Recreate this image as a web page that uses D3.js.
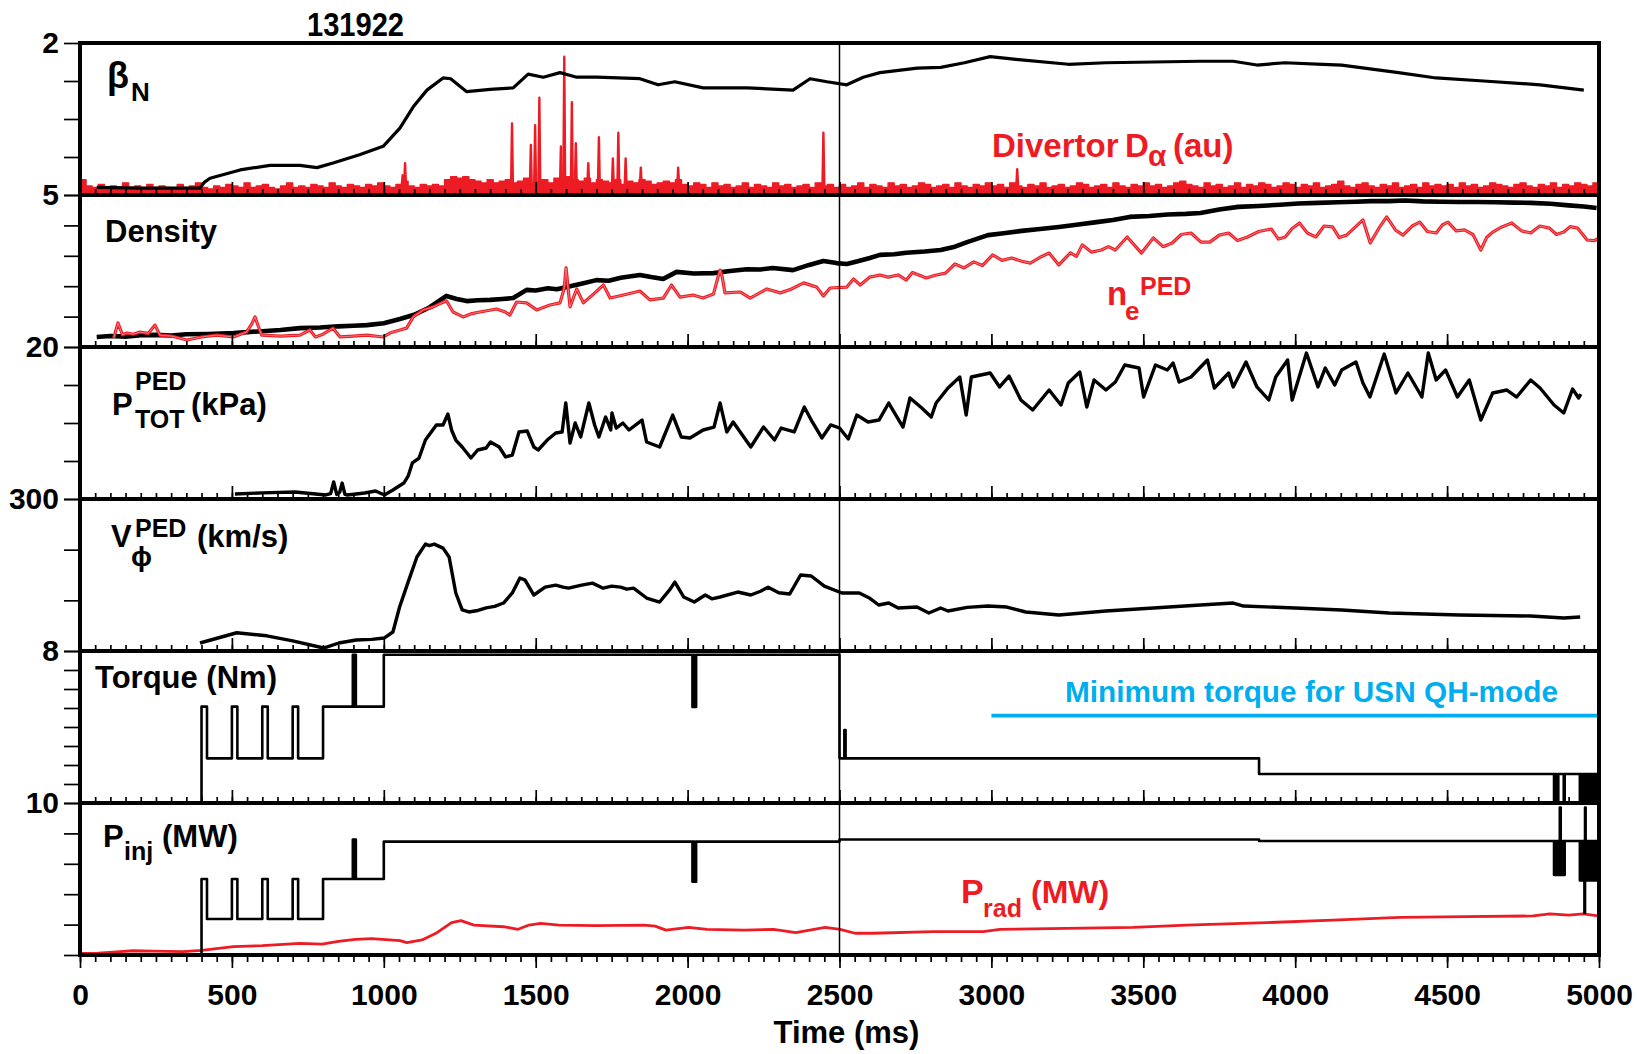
<!DOCTYPE html>
<html>
<head>
<meta charset="utf-8">
<script src="https://cdn.jsdelivr.net/npm/d3@7"></script>
<style>
  html, body { margin: 0; padding: 0; background: #fff; }
  svg { display: block; }
  text { font-family: "Liberation Sans", Arial, Helvetica, sans-serif; font-weight: bold; }
</style>
</head>
<body>
<svg id="chart" width="1637" height="1054"></svg>
<script>
// ---------------- data (time in ms) ----------------
const shotNumber = "131922";
const timeTickLabels = [0, 500, 1000, 1500, 2000, 2500, 3000, 3500, 4000, 4500, 5000];

// panel ranges (bottom of every panel is 0), label shown at the top tick
const panelMax   = [2, 5, 20, 300, 8, 10];
const panelStep  = [0.5, 1, 5, 100, 1, 2];

// normalized beta
const betaN = [[55,0.1],[200,0.09],[395,0.09],[410,0.17],[428,0.22],[527,0.33],[625,0.39],[724,0.39],[780,0.36],[833,0.42],[920,0.53],[998,0.64],[1053,0.88],[1097,1.16],[1142,1.38],[1195,1.54],[1220,1.53],[1273,1.36],[1350,1.39],[1426,1.41],[1475,1.59],[1525,1.55],[1580,1.61],[1635,1.55],[1700,1.55],[1843,1.53],[1903,1.45],[1958,1.49],[2051,1.41],[2195,1.41],[2347,1.38],[2403,1.53],[2459,1.49],[2524,1.45],[2578,1.55],[2633,1.61],[2756,1.67],[2833,1.68],[2911,1.74],[2996,1.82],[3066,1.79],[3253,1.72],[3377,1.74],[3533,1.75],[3688,1.76],[3796,1.76],[3874,1.71],[3966,1.74],[4091,1.72],[4153,1.71],[4340,1.61],[4464,1.54],[4620,1.50],[4806,1.45],[4950,1.38]];

// divertor D-alpha (au, 0-100 over the panel): baseline every 20 ms + ELM spikes
const dalphaStep = 20;
const dalphaBase = [
  10,6,5,7,4,6,5,8,5,6,4,7,5,6,5,4,7,5,6,8,5,4,6,5,7,
  6,5,8,5,6,7,5,4,6,8,5,6,5,7,6,5,8,6,5,7,6,5,7,6,8,
  6,5,7,9,6,5,7,6,7,6,10,12,11,12,10,9,8,10,8,9,10,8,9,11,8,
  9,10,8,11,9,12,10,9,11,8,10,9,8,10,7,9,8,10,9,7,8,9,8,10,7,
  6,8,7,5,8,6,7,5,6,8,5,7,6,5,8,6,7,5,6,7,5,8,6,7,5,
  7,5,6,8,5,7,6,5,8,6,7,5,6,8,7,5,6,7,5,8,6,5,7,6,8,
  6,7,5,8,6,5,7,6,8,5,6,7,5,6,8,7,5,6,7,5,8,6,5,7,6,
  8,6,7,5,6,8,9,7,6,5,8,6,7,5,6,8,5,7,6,8,7,5,6,8,7,
  5,7,6,8,5,6,7,9,6,5,7,8,6,5,7,6,8,5,6,7,5,8,6,7,6,
  7,5,8,6,7,5,6,8,7,6,5,7,8,6,5,7,6,8,5,7,6,8,7,6,8,
  7
];
const dalphaSpikes = [[1062,13],[1070,21],[1422,47],[1484,33],[1498,46],[1512,64],[1583,32],[1594,91],[1619,61],[1632,34],[1673,21],[1708,38],[1754,24],[1772,41],[1796,24],[1846,18],[1969,18],[2447,41],[3085,17]];

// line-average density
const density = [[55,0.33],[100,0.36],[150,0.34],[200,0.39],[250,0.40],[300,0.38],[350,0.42],[420,0.43],[505,0.46],[550,0.49],[600,0.52],[660,0.56],[724,0.62],[790,0.64],[850,0.68],[900,0.7],[944,0.72],[1000,0.78],[1053,0.92],[1100,1.06],[1150,1.3],[1206,1.68],[1240,1.58],[1273,1.51],[1310,1.54],[1350,1.55],[1390,1.58],[1426,1.61],[1470,1.88],[1500,1.86],[1540,1.93],[1570,1.9],[1602,1.97],[1650,2.08],[1700,2.2],[1740,2.18],[1780,2.28],[1843,2.37],[1880,2.3],[1920,2.24],[1964,2.47],[2020,2.42],[2085,2.43],[2140,2.5],[2195,2.56],[2240,2.55],[2280,2.6],[2347,2.53],[2400,2.7],[2447,2.83],[2490,2.76],[2524,2.73],[2560,2.82],[2600,2.93],[2633,3.03],[2680,3.05],[2720,3.1],[2780,3.14],[2833,3.19],[2880,3.3],[2920,3.45],[2989,3.68],[3040,3.74],[3100,3.82],[3160,3.88],[3222,3.95],[3280,4.02],[3340,4.1],[3400,4.18],[3455,4.28],[3520,4.31],[3580,4.36],[3640,4.38],[3688,4.41],[3750,4.52],[3812,4.61],[3880,4.64],[3950,4.68],[4010,4.72],[4076,4.74],[4140,4.76],[4200,4.78],[4250,4.8],[4309,4.8],[4360,4.82],[4420,4.79],[4480,4.78],[4542,4.77],[4600,4.77],[4660,4.76],[4720,4.75],[4775,4.74],[4840,4.71],[4900,4.66],[4950,4.62],[4992,4.57]];

// pedestal density
const nePed = [[111,0.30],[125,0.79],[140,0.40],[154,0.46],[175,0.42],[197,0.49],[225,0.45],[247,0.72],[263,0.39],[300,0.36],[352,0.23],[400,0.33],[450,0.39],[505,0.33],[548,0.49],[565,0.75],[576,0.99],[590,0.6],[598,0.39],[660,0.36],[724,0.39],[757,0.56],[775,0.33],[800,0.42],[833,0.62],[856,0.33],[900,0.36],[944,0.39],[998,0.33],[1020,0.46],[1053,0.56],[1075,0.62],[1097,0.99],[1130,1.22],[1163,1.32],[1190,1.45],[1206,1.52],[1228,1.15],[1261,0.99],[1290,1.1],[1316,1.15],[1371,1.25],[1400,1.15],[1415,1.05],[1437,1.48],[1470,1.45],[1503,1.22],[1547,1.38],[1580,1.45],[1593,1.9],[1600,2.6],[1607,1.9],[1613,1.32],[1635,1.91],[1657,1.45],[1690,1.74],[1723,2.04],[1745,1.61],[1789,1.71],[1843,1.84],[1876,1.55],[1920,1.61],[1947,2.04],[1975,1.64],[2018,1.71],[2051,1.61],[2085,1.74],[2100,2.3],[2107,2.53],[2114,2.3],[2123,1.78],[2173,1.81],[2206,1.61],[2261,1.91],[2305,1.78],[2340,1.9],[2382,2.11],[2425,1.97],[2447,1.68],[2469,1.94],[2524,1.97],[2546,2.24],[2568,2.04],[2600,2.30],[2633,2.37],[2660,2.3],[2693,2.37],[2720,2.2],[2740,2.45],[2786,2.27],[2815,2.36],[2849,2.43],[2880,2.73],[2910,2.6],[2942,2.80],[2970,2.68],[3004,3.03],[3035,2.85],[3066,2.93],[3100,2.82],[3128,2.76],[3160,2.95],[3190,3.09],[3222,2.70],[3260,3.1],[3280,2.98],[3299,3.36],[3330,3.12],[3362,3.19],[3385,3.3],[3408,3.19],[3447,3.62],[3494,3.09],[3533,3.59],[3565,3.3],[3595,3.42],[3625,3.7],[3657,3.75],[3690,3.45],[3719,3.45],[3750,3.68],[3781,3.75],[3810,3.5],[3843,3.62],[3880,3.8],[3921,3.88],[3945,3.55],[3967,3.62],[3990,3.9],[4014,4.08],[4040,3.75],[4068,3.62],[4095,3.98],[4123,3.95],[4145,3.6],[4169,3.68],[4195,3.92],[4223,4.18],[4247,3.42],[4275,3.9],[4301,4.28],[4330,3.85],[4355,3.68],[4385,3.98],[4410,4.11],[4435,3.8],[4464,3.75],[4485,4.02],[4503,4.11],[4530,3.82],[4557,3.85],[4585,3.7],[4611,3.19],[4630,3.6],[4650,3.78],[4680,3.95],[4713,4.08],[4745,3.82],[4775,3.75],[4805,3.98],[4837,3.91],[4860,3.7],[4884,3.78],[4905,3.96],[4930,3.91],[4961,3.52],[4985,3.5],[5000,3.59]];

// pedestal total pressure (kPa)
const pTotPed = [[510,0.66],[600,0.8],[708,0.92],[809,0.53],[825,0.7],[835,2.24],[845,0.6],[855,0.9],[863,2.1],[872,0.6],[880,0.53],[937,0.79],[973,1.05],[1002,0.53],[1030,1.18],[1066,2.1],[1080,3.0],[1094,4.74],[1116,5.39],[1137,7.76],[1173,9.74],[1195,9.74],[1211,11.18],[1223,9.08],[1237,7.76],[1258,6.84],[1287,5.39],[1309,6.45],[1337,6.71],[1351,7.5],[1380,6.84],[1401,5.53],[1423,5.79],[1445,8.82],[1472,8.95],[1494,6.84],[1508,6.45],[1538,7.76],[1566,8.68],[1587,8.82],[1599,12.63],[1613,7.37],[1630,10.0],[1648,8.16],[1675,12.63],[1694,9.74],[1708,8.16],[1730,10.79],[1747,9.08],[1751,11.32],[1765,9.34],[1787,10.0],[1807,9.08],[1850,10.39],[1865,7.5],[1908,6.84],[1951,11.05],[1979,8.16],[2008,8.03],[2051,9.08],[2087,9.47],[2107,12.63],[2129,8.82],[2150,10.13],[2208,6.84],[2250,9.47],[2286,7.76],[2308,9.34],[2351,8.82],[2384,12.1],[2407,10.39],[2442,8.03],[2471,9.74],[2500,9.34],[2529,7.89],[2557,11.05],[2594,10.13],[2630,10.39],[2662,12.63],[2709,9.47],[2732,13.29],[2770,12.0],[2802,10.79],[2818,12.63],[2857,14.6],[2896,16.05],[2917,11.05],[2934,16.05],[2996,16.58],[3027,14.74],[3058,16.18],[3097,13.03],[3136,11.71],[3190,14.34],[3229,12.37],[3253,15.26],[3291,16.71],[3314,12.1],[3338,15.66],[3377,14.34],[3408,15.39],[3439,17.63],[3486,17.24],[3501,13.42],[3540,17.63],[3579,16.97],[3598,17.89],[3618,15.39],[3657,16.05],[3711,18.29],[3734,14.6],[3781,16.58],[3796,14.74],[3838,18.03],[3874,14.74],[3913,13.03],[3936,16.05],[3975,18.29],[3990,13.03],[4037,19.21],[4075,14.74],[4099,17.24],[4130,15.0],[4153,16.97],[4200,18.03],[4223,15.26],[4246,13.42],[4293,19.08],[4332,13.95],[4371,16.58],[4417,13.42],[4438,19.21],[4464,15.66],[4495,16.97],[4534,13.42],[4573,15.66],[4611,10.39],[4650,13.95],[4697,14.34],[4729,13.42],[4775,15.66],[4806,14.6],[4852,12.37],[4884,11.32],[4913,14.47],[4933,13.29],[4940,13.8]];

// pedestal toroidal rotation (km/s)
const vPhiPed = [[395,15.8],[516,36],[615,30],[700,20],[802,5.9],[852,15.8],[909,21.7],[960,23],[1002,25.7],[1030,37.5],[1052,86.8],[1080,136],[1109,185.5],[1137,211],[1150,208],[1166,211],[1195,203],[1215,185.5],[1237,114.5],[1258,81],[1280,77],[1310,80],[1337,85],[1365,88],[1394,94.7],[1423,114.5],[1448,144],[1465,140],[1494,110.5],[1531,126],[1566,130],[1590,126],[1608,124],[1651,130],[1687,134],[1722,124],[1750,128],[1779,126],[1800,122],[1822,124],[1865,104.6],[1908,96.7],[1940,120],[1958,136],[1987,106.6],[2022,96.7],[2058,110.5],[2080,103],[2107,106.6],[2165,116.4],[2208,110.5],[2240,118],[2265,126],[2300,115],[2336,112.5],[2372,150],[2407,148],[2450,128],[2508,114.5],[2565,114.5],[2600,104],[2629,90.8],[2662,94.7],[2693,84.9],[2755,86.8],[2794,75],[2833,84.9],[2857,78.9],[2920,86],[2989,88.8],[3051,86.8],[3113,77],[3222,71],[3300,75],[3377,79],[3533,84.9],[3688,90.8],[3796,94.7],[3830,88.8],[4000,84.9],[4153,81],[4309,75],[4541,71],[4775,69.1],[4884,65.1],[4938,67.1]];

// injected torque (Nm), piecewise constant
const torque = [[400,0],[400,5.07],[418,2.35],[500,5.07],[518,2.35],[600,5.07],[618,2.35],[700,5.07],[718,2.35],[800,5.07],[898,7.8],[902,5.07],[904,7.8],[908,5.07],[1000,7.8],[2016,5.05],[2020,7.8],[2023,5.05],[2028,7.8],[2500,2.35],[2516,3.84],[2520,2.35],[3881,1.53],[4852,0],[4856,1.53],[4861,0],[4866,1.53],[4884,0],[4887,1.53],[4937,0],[4940,1.53],[4942,0],[4945,1.53],[4950,0],[4953,1.53],[4955,0],[4958,1.53],[4960,0],[4963,1.53],[4965,0],[4968,1.53],[4970,0],[4973,1.53],[4975,0],[4978,1.53],[4980,0],[4983,1.53],[4985,0],[4988,1.53],[4990,0],[4993,1.53],[4995,0],[4998,1.53],[5000,1.53]];
const minTorque = [[3000,4.6],[5000,4.6]];

// injected beam power (MW), piecewise constant
const pInj = [[400,0],[400,5.0],[418,2.37],[500,5.0],[518,2.37],[600,5.0],[618,2.37],[700,5.0],[718,2.37],[800,5.0],[898,7.6],[902,5.0],[904,7.6],[908,5.0],[1000,7.46],[2016,4.82],[2020,7.46],[2023,4.82],[2028,7.46],[2500,7.6],[3881,7.5],[4852,5.26],[4855,7.5],[4858,5.26],[4862,7.5],[4866,5.26],[4871,9.7],[4874,5.26],[4880,7.5],[4884,5.26],[4887,7.5],[4937,4.9],[4940,7.5],[4943,4.9],[4946,7.5],[4949,4.9],[4952,2.76],[4954,9.7],[4956,4.9],[4959,7.5],[4962,4.9],[4965,7.5],[4968,4.9],[4971,7.5],[4974,4.9],[4977,7.5],[4980,4.9],[4983,7.5],[4986,4.9],[4989,7.5],[4992,4.9],[4995,7.5],[4998,4.9],[5000,7.5]];

// radiated power (MW)
const pRad = [[0,0.1],[60,0.12],[120,0.2],[175,0.28],[240,0.25],[340,0.22],[400,0.3],[505,0.55],[600,0.62],[724,0.77],[797,0.72],[850,0.9],[907,1.03],[960,1.08],[1053,0.94],[1076,0.81],[1126,0.99],[1175,1.47],[1223,2.13],[1254,2.26],[1297,1.97],[1394,1.86],[1442,1.69],[1478,1.97],[1516,2.08],[1577,1.97],[1699,1.93],[1857,1.97],[1893,1.9],[1929,1.64],[2003,1.82],[2064,1.69],[2186,1.64],[2283,1.69],[2356,1.47],[2453,1.82],[2502,1.69],[2551,1.43],[2611,1.43],[2809,1.54],[2973,1.54],[3028,1.69],[3248,1.75],[3467,1.82],[3643,1.97],[3906,2.13],[4125,2.3],[4345,2.48],[4564,2.52],[4783,2.57],[4838,2.7],[4900,2.62],[4948,2.7],[4997,2.57]];

// ---------------- layout ----------------
const RED = "#ed1c24", CYAN = "#00aeef";
const FONT = '"Liberation Sans", Arial, Helvetica, sans-serif';
const plotLeft = 80, plotRight = 1599, plotTop = 43, panelH = 152;
const nPanels = panelMax.length;
const plotBottom = plotTop + nPanels * panelH;

const svg = d3.select("#chart");
const x = d3.scaleLinear().domain([0, 5000]).range([plotLeft, plotRight]);

const panelTop = i => plotTop + i * panelH;
const yScales = panelMax.map((m, i) =>
  d3.scaleLinear().domain([0, m]).range([panelTop(i) + panelH, panelTop(i)]));
const yDalpha = d3.scaleLinear().domain([0, 100]).range([panelTop(0) + panelH, panelTop(0)]);

// clip each trace to its own panel
const defs = svg.append("defs");
panelMax.forEach((m, i) => {
  defs.append("clipPath").attr("id", "clip" + i)
    .append("rect").attr("x", plotLeft).attr("y", panelTop(i))
    .attr("width", plotRight - plotLeft).attr("height", panelH);
});
const layer = i => svg.append("g").attr("clip-path", `url(#clip${i})`);

function trace(g, data, y, color, width, curve) {
  const gen = d3.line().x(d => x(d[0])).y(d => y(d[1]));
  if (curve) gen.curve(curve);
  return g.append("path").datum(data).attr("d", gen)
    .attr("fill", "none").attr("stroke", color).attr("stroke-width", width)
    .attr("stroke-linejoin", "round").attr("stroke-linecap", "butt");
}
// outlined trace: coloured stroke with a thin light core
function hollowTrace(g, data, y, color, width, core, coreColor) {
  trace(g, data, y, color, width);
  trace(g, data, y, coreColor, core);
}

// ---- panel 0 : beta_N and D-alpha ----
const g0 = layer(0);
const dalphaSeries = dalphaBase.map((v, k) => [k * dalphaStep, v]);
g0.append("path").datum(dalphaSeries)
  .attr("d", d3.area().curve(d3.curveStepAfter).x(d => x(d[0])).y0(yDalpha(0)).y1(d => yDalpha(d[1])))
  .attr("fill", RED);
trace(g0, dalphaSeries, yDalpha, RED, 1.4, d3.curveStepAfter);
dalphaSpikes.forEach(([t, v]) => {
  trace(g0, [[t - 3, 6], [t, v], [t + 3, 6]], yDalpha, RED, 2.4);
});
trace(g0, betaN, yScales[0], "#000", 3.2);

// ---- panel 1 : density and pedestal density ----
const g1 = layer(1);
trace(g1, density, yScales[1], "#000", 4.6);
hollowTrace(g1, nePed, yScales[1], RED, 3.2, 0.6, "#f7b5b8");

// ---- panel 2 : pedestal pressure ----
const g2 = layer(2);
trace(g2, pTotPed, yScales[2], "#000", 3.4);

// ---- panel 3 : pedestal rotation ----
const g3 = layer(3);
trace(g3, vPhiPed, yScales[3], "#000", 3.4);

// ---- panel 4 : torque ----
const g4 = layer(4);
trace(g4, minTorque, yScales[4], CYAN, 3.6);
trace(g4, torque, yScales[4], "#000", 2.6, d3.curveStepAfter);

// ---- panel 5 : injected and radiated power ----
const g5 = layer(5);
trace(g5, pRad, yScales[5], RED, 2.8);
trace(g5, pInj, yScales[5], "#000", 2.6, d3.curveStepAfter);

// vertical marker at 2500 ms
svg.append("line")
  .attr("x1", x(2500)).attr("x2", x(2500))
  .attr("y1", plotTop).attr("y2", plotBottom)
  .attr("stroke", "#000").attr("stroke-width", 1.5);

// ---------------- axes ----------------
function styleAxis(g, size) {
  g.attr("font-family", FONT).attr("font-size", size).attr("font-weight", "bold");
  g.select(".domain").remove();
  g.selectAll(".tick line").attr("stroke", "#000").attr("stroke-width", 1.7);
  g.selectAll(".tick text").attr("fill", "#000");
}
const minorTicks = d3.range(0, 5001, 50);
const majorTicks = d3.range(0, 5001, 500);

// inside ticks along the bottom of the upper panels
for (let i = 0; i < nPanels - 1; i++) {
  const yb = panelTop(i) + panelH;
  styleAxis(svg.append("g").attr("transform", `translate(0,${yb})`)
    .call(d3.axisTop(x).tickValues(minorTicks).tickSize(6).tickFormat("")), 10);
  styleAxis(svg.append("g").attr("transform", `translate(0,${yb})`)
    .call(d3.axisTop(x).tickValues(majorTicks).tickSize(13).tickFormat("")), 10);
}
// outside time axis
styleAxis(svg.append("g").attr("transform", `translate(0,${plotBottom})`)
  .call(d3.axisBottom(x).tickValues(minorTicks).tickSize(7).tickFormat("")), 10);
styleAxis(svg.append("g").attr("transform", `translate(0,${plotBottom})`)
  .call(d3.axisBottom(x).tickValues(timeTickLabels).tickSize(13).tickPadding(16).tickFormat(d3.format("d"))), 30);

// left axes: only the top value of each panel is labelled
yScales.forEach((y, i) => {
  const m = panelMax[i];
  const vals = d3.range(0, m + panelStep[i] / 2, panelStep[i]);
  styleAxis(svg.append("g").attr("transform", `translate(${plotLeft},0)`)
    .call(d3.axisLeft(y).tickValues(vals).tickSize(16).tickPadding(5)
      .tickFormat(d => Math.abs(d - m) < 1e-9 ? String(m) : "")), 30);
});

// panel frames
const frame = svg.append("g").attr("stroke", "#000").attr("stroke-width", 4);
for (let i = 0; i <= nPanels; i++) {
  const yy = panelTop(i);
  frame.append("line").attr("x1", plotLeft - 2).attr("x2", plotRight + 2).attr("y1", yy).attr("y2", yy);
}
[plotLeft, plotRight].forEach(xx =>
  frame.append("line").attr("x1", xx).attr("x2", xx).attr("y1", plotTop - 2).attr("y2", plotBottom + 2));

// ---------------- labels ----------------
function label(xp, yp, s, size, opts = {}) {
  const t = svg.append("text").attr("x", xp).attr("y", yp)
    .attr("font-size", size).attr("fill", opts.fill || "#000")
    .attr("font-weight", opts.weight || "bold").text(s);
  if (opts.anchor) t.attr("text-anchor", opts.anchor);
  if (opts.len) t.attr("textLength", opts.len).attr("lengthAdjust", "spacingAndGlyphs");
  return t;
}

label(307, 36, shotNumber, 33, { len: 97 });

label(107, 88, "β", 36, { weight: "normal" });
label(131, 101, "N", 26);

label(105, 242, "Density", 31);

label(112, 415, "P", 31);
label(135, 390, "PED", 25);
label(135, 428, "TOT", 25);
label(191, 415, "(kPa)", 31);

label(111, 547, "V", 31);
label(135, 537, "PED", 25);
label(131, 566, "ϕ", 28, { weight: "normal" });
label(197, 547, "(km/s)", 31);

label(95, 688, "Torque (Nm)", 31);

label(103, 847, "P", 31);
label(124, 860, "inj", 25);
label(162, 847, "(MW)", 31);

// red and cyan annotations
label(992, 157, "Divertor", 33, { fill: RED });
label(1125, 157, "D", 33, { fill: RED });
label(1148, 166, "α", 30, { fill: RED, weight: "normal" });
label(1173, 157, "(au)", 33, { fill: RED });

label(1107, 305, "n", 33, { fill: RED });
label(1125, 320, "e", 26, { fill: RED });
label(1140, 295, "PED", 25, { fill: RED });

label(961, 903, "P", 34, { fill: RED });
label(983, 917, "rad", 25, { fill: RED });
label(1031, 903, "(MW)", 32, { fill: RED });

label(1065, 702, "Minimum torque for USN QH-mode", 30, { fill: CYAN, len: 493 });

label(x(2500) + 7, 1043, "Time (ms)", 31, { anchor: "middle" });
</script>
</body>
</html>
